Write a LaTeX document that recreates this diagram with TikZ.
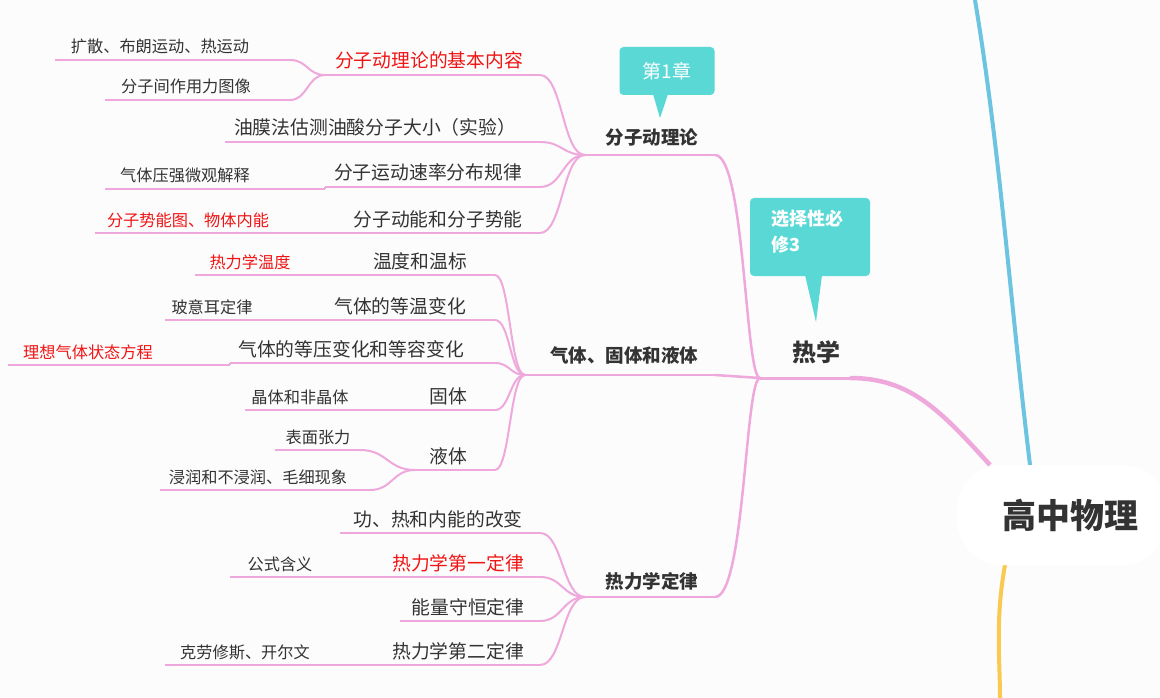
\documentclass[tikz,border=0pt]{standalone}
\usepackage{fontspec}
\setmainfont{Noto Sans CJK SC}
\usetikzlibrary{calc}
\begin{document}
\begin{tikzpicture}[x=1pt,y=-1pt,
  br/.style={draw=pinkc,line width=2pt},
  lf/.style={inner sep=0pt,anchor=base,text=txt},
  t3/.style={lf,font=\fontsize{18.8}{21}\selectfont},
  t4/.style={lf,font=\fontsize{16.2}{18}\selectfont},
  t2/.style={lf,font=\bfseries\fontsize{18.5}{21}\selectfont},
  red/.style={text=redc},
  callout/.style={fill=teal0,draw=none}]
\definecolor{pinkc}{RGB}{238,168,220}
\definecolor{txt}{RGB}{51,51,51}
\definecolor{redc}{RGB}{240,20,20}
\definecolor{teal0}{RGB}{90,216,214}
\definecolor{bluec}{RGB}{108,196,224}
\definecolor{yel}{RGB}{250,202,80}
\useasboundingbox[fill={rgb,255:red,252;green,252;blue,252}] (0,0) rectangle (1160,698);
% side branches
\draw[bluec,line width=4pt] (975,0) .. controls (1000,150) and (1010,300) .. (1030,465);
\draw[yel,line width=4pt] (1005,565) .. controls (995,620) and (1000,660) .. (1000,698);
% central
\draw[pinkc,line width=4.5pt] (990,465) .. controls (940,410) and (910,378) .. (850,378);
\node[fill=white,rounded corners=45pt,minimum width=210pt,minimum height=100pt] (root) at (1062,515) {};
\node[font=\bfseries\fontsize{34}{36}\selectfont,text=txt] (roott) at (1070,515) {高中物理};
% 热学
\coordinate (rx) at (760,378);
\draw[pinkc,line width=3pt] (rx) -- (855,378);
\node[t2,font=\bfseries\fontsize{24}{26}\selectfont] (rexue) at (816,361) {热学};
% callouts
\node[callout,rounded corners=4pt,minimum width=120pt,minimum height=78pt] (c1) at (810,237) {};
\fill[teal0] (805,275) -- (816,322) -- (822,275) -- cycle;
\node[text=white,font=\bfseries\fontsize{18}{26}\selectfont,align=left,anchor=north west] (c1t) at (768,207) {选择性必\\修3};
\node[callout,rounded corners=4pt,minimum width=95pt,minimum height=48pt] (c2) at (667,71) {};
\fill[teal0] (653,94) -- (660,118) -- (668,94) -- cycle;
\node[text=white,font=\fontsize{19}{20}\selectfont] (c2t) at (667,71) {第1章};
% level 2
\coordinate (a) at (585,155);
\draw[br,line width=2.5pt] (a) -- (715,155);
\node[t2] (at) at (652,145) {分子动理论};
\coordinate (b) at (525,375);
\draw[br,line width=2.5pt] (b) -- (715,375);
\node[t2] (bt) at (624,362) {气体、固体和液体};
\coordinate (c) at (585,597);
\draw[br,line width=2.5pt] (c) -- (715,597);
\node[t2] (ct) at (652,588) {热力学定律};
\draw[br,line width=2.5pt] (rx) .. controls (745,378) and (745,155) .. (715,155);
\draw[br,line width=2.5pt] (rx) -- (715,375);
\draw[br,line width=2.5pt] (rx) .. controls (745,378) and (745,597) .. (715,597);
\newcommand\cnode[8]{%
  \coordinate (#1l) at (#2,#4); \coordinate (#1r) at (#3,#4);
  \draw[br] (#1l) -- (#1r);
  \node[#6] (#1) at (#5,#4-7) {#7};
  \coordinate (#1mid) at ($(#1r)!0.5!(#8)$);
  \draw[br] (#1r) .. controls (#1mid |- #1r) and (#1mid |- #8) .. (#8);
}
% 分子动理论 children
\cnode{a1}{325}{540}{75}{429}{t3,red}{分子动理论的基本内容}{a}
\cnode{a2}{225}{540}{142}{375}{t3}{油膜法估测油酸分子大小（实验）}{a}
\cnode{a3}{325}{540}{187}{428}{t3}{分子运动速率分布规律}{a}
\cnode{a4}{345}{540}{233}{438}{t3}{分子动能和分子势能}{a}
\cnode{a11}{55}{290}{60}{160}{t4}{扩散、布朗运动、热运动}{a1l}
\cnode{a12}{105}{290}{100}{186}{t4}{分子间作用力图像}{a1l}
\cnode{a31}{105}{325}{189}{185}{t4}{气体压强微观解释}{a3l}
\cnode{a41}{95}{345}{233}{188}{t4,red}{分子势能图、物体内能}{a4l}
% 气体 children
\cnode{b1}{365}{495}{275}{420}{t3}{温度和温标}{b}
\cnode{b2}{325}{495}{320}{400}{t3}{气体的等温变化}{b}
\cnode{b3}{230}{495}{363}{351}{t3}{气体的等压变化和等容变化}{b}
\cnode{b4}{420}{495}{410}{448}{t3}{固体}{b}
\cnode{b5}{415}{495}{470}{448}{t3}{液体}{b}
\cnode{b11}{195}{365}{275}{250}{t4,red}{热力学温度}{b1l}
\cnode{b21}{165}{325}{320}{212}{t4}{玻意耳定律}{b2l}
\cnode{b31}{8}{230}{365}{88}{t4,red}{理想气体状态方程}{b3l}
\cnode{b41}{245}{420}{410}{300}{t4}{晶体和非晶体}{b4l}
\cnode{b51}{275}{360}{450}{318}{t4}{表面张力}{b5l}
\cnode{b52}{160}{370}{490}{258}{t4}{浸润和不浸润、毛细现象}{b5l}
% 热力学定律 children
\cnode{c1}{340}{540}{533}{438}{t3}{功、热和内能的改变}{c}
\cnode{c2}{395}{540}{577}{458}{t3,red}{热力学第一定律}{c}
\cnode{c3}{400}{540}{621}{468}{t3}{能量守恒定律}{c}
\cnode{c4}{385}{540}{665}{458}{t3}{热力学第二定律}{c}
\cnode{c21}{230}{395}{577}{280}{t4}{公式含义}{c2l}
\cnode{c41}{165}{385}{665}{245}{t4}{克劳修斯、开尔文}{c4l}
\end{tikzpicture}
\end{document}
